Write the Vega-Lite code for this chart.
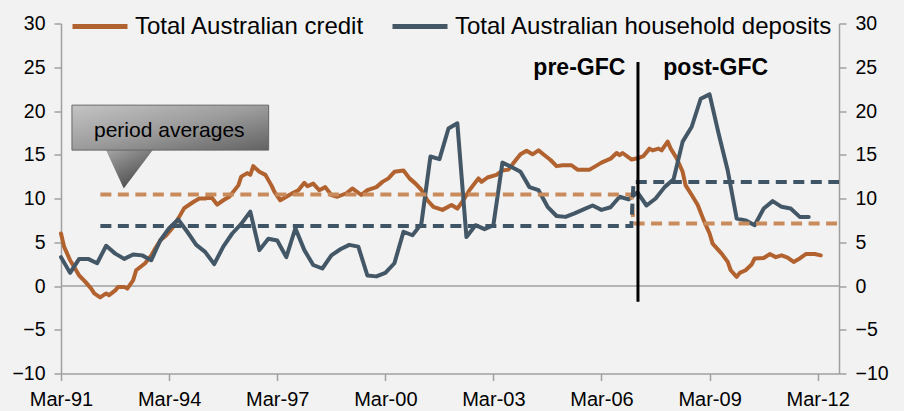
{
  "$schema": "https://vega.github.io/schema/vega-lite/v6.json",
  "autosize": {"type": "none"},
  "width": 778,
  "height": 350,
  "padding": {"left": 61, "top": 23.5, "right": 65, "bottom": 37.5},
  "background": "#f2f2f2",
  "config": {
    "view": {"stroke": null},
    "axis": {
      "domainColor": "#a0a0a0", "domainWidth": 1.5,
      "tickColor": "#a0a0a0", "tickWidth": 1.5, "tickSize": 7,
      "labelFont": "Liberation Sans", "labelFontSize": 19.5, "labelColor": "#000000",
      "labelPadding": 9, "grid": false, "title": null, "labelFlush": false
    }
  },
  "datasets": {
    "credit": [
      {"d": "1991-03-01", "v": 6.0}, {"d": "1991-04-01", "v": 4.5}, {"d": "1991-06-01", "v": 2.95},
      {"d": "1991-08-01", "v": 1.8}, {"d": "1991-09-01", "v": 1.2}, {"d": "1991-11-01", "v": 0.5},
      {"d": "1992-01-01", "v": -0.3}, {"d": "1992-02-01", "v": -0.85}, {"d": "1992-04-01", "v": -1.3},
      {"d": "1992-06-01", "v": -0.85}, {"d": "1992-07-01", "v": -1.05}, {"d": "1992-09-01", "v": -0.5},
      {"d": "1992-10-01", "v": -0.1}, {"d": "1992-12-01", "v": -0.1}, {"d": "1993-01-01", "v": -0.3},
      {"d": "1993-03-01", "v": 0.65}, {"d": "1993-04-01", "v": 1.8}, {"d": "1993-07-01", "v": 2.6},
      {"d": "1993-09-01", "v": 3.5}, {"d": "1993-10-01", "v": 4.1}, {"d": "1993-12-01", "v": 5.2},
      {"d": "1994-02-01", "v": 5.8}, {"d": "1994-04-01", "v": 6.6}, {"d": "1994-06-01", "v": 7.7},
      {"d": "1994-08-01", "v": 8.9}, {"d": "1994-11-01", "v": 9.6}, {"d": "1995-01-01", "v": 10.0},
      {"d": "1995-03-01", "v": 10.0}, {"d": "1995-05-01", "v": 10.2}, {"d": "1995-07-01", "v": 9.3},
      {"d": "1995-09-01", "v": 9.8}, {"d": "1995-11-01", "v": 10.2}, {"d": "1996-02-01", "v": 11.5},
      {"d": "1996-03-01", "v": 12.5}, {"d": "1996-05-01", "v": 12.9}, {"d": "1996-06-01", "v": 12.7},
      {"d": "1996-07-01", "v": 13.7}, {"d": "1996-09-01", "v": 13.05}, {"d": "1996-11-01", "v": 12.7},
      {"d": "1997-01-01", "v": 11.5}, {"d": "1997-02-01", "v": 10.75}, {"d": "1997-04-01", "v": 9.8},
      {"d": "1997-06-01", "v": 10.2}, {"d": "1997-08-01", "v": 10.6}, {"d": "1997-10-01", "v": 10.95},
      {"d": "1997-12-01", "v": 11.8}, {"d": "1998-01-01", "v": 11.4}, {"d": "1998-03-01", "v": 11.7},
      {"d": "1998-05-01", "v": 10.95}, {"d": "1998-07-01", "v": 11.3}, {"d": "1998-09-01", "v": 10.4},
      {"d": "1998-11-01", "v": 10.2}, {"d": "1999-02-01", "v": 10.6}, {"d": "1999-04-01", "v": 11.15},
      {"d": "1999-07-01", "v": 10.4}, {"d": "1999-09-01", "v": 10.95}, {"d": "1999-12-01", "v": 11.3},
      {"d": "2000-02-01", "v": 11.9}, {"d": "2000-04-01", "v": 12.3}, {"d": "2000-06-01", "v": 13.05},
      {"d": "2000-09-01", "v": 13.2}, {"d": "2000-11-01", "v": 12.3}, {"d": "2001-01-01", "v": 11.7},
      {"d": "2001-03-01", "v": 11.0}, {"d": "2001-05-01", "v": 9.8}, {"d": "2001-07-01", "v": 9.05},
      {"d": "2001-10-01", "v": 8.7}, {"d": "2002-01-01", "v": 9.25}, {"d": "2002-03-01", "v": 8.85},
      {"d": "2002-05-01", "v": 9.8}, {"d": "2002-07-01", "v": 10.95}, {"d": "2002-10-01", "v": 12.3},
      {"d": "2002-11-01", "v": 11.9}, {"d": "2003-01-01", "v": 12.4}, {"d": "2003-04-01", "v": 12.7},
      {"d": "2003-06-01", "v": 13.2}, {"d": "2003-08-01", "v": 13.3}, {"d": "2003-10-01", "v": 14.2},
      {"d": "2003-12-01", "v": 15.05}, {"d": "2004-02-01", "v": 15.45}, {"d": "2004-04-01", "v": 15.05},
      {"d": "2004-06-01", "v": 15.5}, {"d": "2004-08-01", "v": 14.95}, {"d": "2004-10-01", "v": 14.4},
      {"d": "2004-12-01", "v": 13.7}, {"d": "2005-02-01", "v": 13.8}, {"d": "2005-05-01", "v": 13.8},
      {"d": "2005-07-01", "v": 13.3}, {"d": "2005-11-01", "v": 13.3}, {"d": "2006-01-01", "v": 13.7},
      {"d": "2006-03-01", "v": 14.1}, {"d": "2006-06-01", "v": 14.55}, {"d": "2006-08-01", "v": 15.2},
      {"d": "2006-09-01", "v": 14.95}, {"d": "2006-10-01", "v": 15.2}, {"d": "2007-01-01", "v": 14.45},
      {"d": "2007-03-01", "v": 14.6}, {"d": "2007-05-01", "v": 14.85}, {"d": "2007-07-01", "v": 15.7},
      {"d": "2007-08-01", "v": 15.5}, {"d": "2007-10-01", "v": 15.7}, {"d": "2007-11-01", "v": 15.5},
      {"d": "2008-01-01", "v": 16.5}, {"d": "2008-02-01", "v": 15.7}, {"d": "2008-04-01", "v": 14.6},
      {"d": "2008-06-01", "v": 13.05}, {"d": "2008-07-01", "v": 11.5}, {"d": "2008-09-01", "v": 10.4},
      {"d": "2008-11-01", "v": 9.25}, {"d": "2009-01-01", "v": 7.5}, {"d": "2009-03-01", "v": 6.0},
      {"d": "2009-04-01", "v": 4.85}, {"d": "2009-07-01", "v": 3.7}, {"d": "2009-09-01", "v": 2.75},
      {"d": "2009-10-01", "v": 1.8}, {"d": "2009-12-01", "v": 1.05}, {"d": "2010-01-01", "v": 1.5},
      {"d": "2010-03-01", "v": 1.8}, {"d": "2010-05-01", "v": 2.45}, {"d": "2010-06-01", "v": 3.15},
      {"d": "2010-09-01", "v": 3.2}, {"d": "2010-11-01", "v": 3.65}, {"d": "2011-01-01", "v": 3.3},
      {"d": "2011-03-01", "v": 3.5}, {"d": "2011-05-01", "v": 3.25}, {"d": "2011-07-01", "v": 2.75},
      {"d": "2011-09-01", "v": 3.15}, {"d": "2011-11-01", "v": 3.65}, {"d": "2012-02-01", "v": 3.65},
      {"d": "2012-04-01", "v": 3.5}
    ],
    "deposits": [
      {"d": "1991-03-01", "v": 3.3}, {"d": "1991-06-01", "v": 1.5}, {"d": "1991-09-01", "v": 3.1}, {"d": "1991-12-01", "v": 3.1},
      {"d": "1992-03-01", "v": 2.6}, {"d": "1992-06-01", "v": 4.6}, {"d": "1992-09-01", "v": 3.7}, {"d": "1992-12-01", "v": 3.1},
      {"d": "1993-03-01", "v": 3.6}, {"d": "1993-06-01", "v": 3.5}, {"d": "1993-09-01", "v": 2.95}, {"d": "1993-12-01", "v": 5.2},
      {"d": "1994-03-01", "v": 6.6}, {"d": "1994-06-01", "v": 7.6}, {"d": "1994-09-01", "v": 6.2}, {"d": "1994-12-01", "v": 4.7},
      {"d": "1995-03-01", "v": 3.9}, {"d": "1995-06-01", "v": 2.5}, {"d": "1995-09-01", "v": 4.5}, {"d": "1995-12-01", "v": 6.0},
      {"d": "1996-03-01", "v": 7.1}, {"d": "1996-06-01", "v": 8.5}, {"d": "1996-09-01", "v": 4.1}, {"d": "1996-12-01", "v": 5.4},
      {"d": "1997-03-01", "v": 5.2}, {"d": "1997-06-01", "v": 3.3}, {"d": "1997-09-01", "v": 6.6}, {"d": "1997-12-01", "v": 4.1},
      {"d": "1998-03-01", "v": 2.4}, {"d": "1998-06-01", "v": 2.0}, {"d": "1998-09-01", "v": 3.5}, {"d": "1998-12-01", "v": 4.2},
      {"d": "1999-03-01", "v": 4.7}, {"d": "1999-06-01", "v": 4.5}, {"d": "1999-09-01", "v": 1.2}, {"d": "1999-12-01", "v": 1.1},
      {"d": "2000-03-01", "v": 1.5}, {"d": "2000-06-01", "v": 2.6}, {"d": "2000-09-01", "v": 6.2}, {"d": "2000-12-01", "v": 5.8},
      {"d": "2001-03-01", "v": 7.1}, {"d": "2001-06-01", "v": 14.8}, {"d": "2001-09-01", "v": 14.5}, {"d": "2001-12-01", "v": 18.0},
      {"d": "2002-03-01", "v": 18.6}, {"d": "2002-06-01", "v": 5.6}, {"d": "2002-09-01", "v": 6.95}, {"d": "2002-12-01", "v": 6.5},
      {"d": "2003-03-01", "v": 6.95}, {"d": "2003-06-01", "v": 14.1}, {"d": "2003-09-01", "v": 13.6}, {"d": "2003-12-01", "v": 13.05},
      {"d": "2004-03-01", "v": 11.3}, {"d": "2004-06-01", "v": 10.95}, {"d": "2004-09-01", "v": 9.05}, {"d": "2004-12-01", "v": 8.0},
      {"d": "2005-03-01", "v": 7.9}, {"d": "2005-06-01", "v": 8.3}, {"d": "2005-09-01", "v": 8.75}, {"d": "2005-12-01", "v": 9.2},
      {"d": "2006-03-01", "v": 8.7}, {"d": "2006-06-01", "v": 9.0}, {"d": "2006-09-01", "v": 10.2}, {"d": "2006-12-01", "v": 9.9},
      {"d": "2007-03-01", "v": 10.7}, {"d": "2007-06-01", "v": 9.2}, {"d": "2007-09-01", "v": 10.0}, {"d": "2007-12-01", "v": 11.3},
      {"d": "2008-03-01", "v": 12.2}, {"d": "2008-06-01", "v": 16.5}, {"d": "2008-09-01", "v": 18.2}, {"d": "2008-12-01", "v": 21.4},
      {"d": "2009-03-01", "v": 21.9}, {"d": "2009-06-01", "v": 17.4}, {"d": "2009-09-01", "v": 13.2}, {"d": "2009-12-01", "v": 7.7},
      {"d": "2010-03-01", "v": 7.5}, {"d": "2010-06-01", "v": 6.95}, {"d": "2010-09-01", "v": 8.85}, {"d": "2010-12-01", "v": 9.7},
      {"d": "2011-03-01", "v": 9.05}, {"d": "2011-06-01", "v": 8.85}, {"d": "2011-09-01", "v": 7.9}, {"d": "2011-12-01", "v": 7.9}
    ],
    "avgC": [
      {"d": "1992-04-03", "v": 10.45}, {"d": "2006-12-29", "v": 10.45},
      {"d": "2007-01-20", "v": 7.15}, {"d": "2012-10-03", "v": 7.15}
    ],
    "avgD": [
      {"d": "1992-04-03", "v": 6.85}, {"d": "2006-12-29", "v": 6.85},
      {"d": "2007-01-20", "v": 11.9}, {"d": "2012-10-03", "v": 11.9}
    ],
    "gfc": [{"d": "2007-03-06", "y1": -1.8, "y2": 25.6}],
    "box": [{"d1": "1991-06-20", "d2": "1996-12-04", "v1": 15.53, "v2": 20.67}],
    "arrow": [{"d": "1993-01-24", "v": 13.33}],
    "boxText": [{"d": "1994-03-03", "v": 17.05, "t": "period averages"}],
    "pre": [{"d": "2006-10-29", "v": 24.1, "t": "pre-GFC"}],
    "post": [{"d": "2007-11-18", "v": 24.1, "t": "post-GFC"}]
  },
  "resolve": {"axis": {"y": "independent"}},
  "layer": [
    {
      "layer": [
        {
          "data": {"values": [{}]},
          "mark": {"type": "rule", "color": "#a0a0a0", "strokeWidth": 1.5},
          "encoding": {"y": {"datum": 0, "type": "quantitative"}}
        },
        {
          "data": {"name": "credit"},
          "mark": {"type": "line", "strokeWidth": 4, "strokeJoin": "round", "strokeCap": "round"},
          "encoding": {
            "x": {
              "field": "d", "type": "temporal",
              "scale": {"type": "utc", "domain": [{"year": 1991, "month": 3, "date": 1, "utc": true}, {"year": 2012, "month": 10, "date": 3, "utc": true}]},
              "axis": {
                "values": [
                  {"year": 1991, "month": 3, "date": 1, "utc": true},
                  {"year": 1994, "month": 3, "date": 1, "utc": true},
                  {"year": 1997, "month": 3, "date": 1, "utc": true},
                  {"year": 2000, "month": 3, "date": 1, "utc": true},
                  {"year": 2003, "month": 3, "date": 1, "utc": true},
                  {"year": 2006, "month": 3, "date": 1, "utc": true},
                  {"year": 2009, "month": 3, "date": 1, "utc": true},
                  {"year": 2012, "month": 3, "date": 1, "utc": true}
                ],
                "labelExpr": "utcFormat(datum.value, '%b-%y')", "labelPadding": 9, "labelFlush": false, "labelFontSize": 20
              }
            },
            "y": {
              "field": "v", "type": "quantitative",
              "scale": {"domain": [-10, 30], "nice": false, "zero": false},
              "axis": {"values": [-10, -5, 0, 5, 10, 15, 20, 25, 30], "orient": "left"}
            },
            "color": {
              "datum": "Total Australian credit", "type": "nominal",
              "scale": {"domain": ["Total Australian credit", "Total Australian household deposits"], "range": ["#b1622f", "#435767"]},
              "legend": {
                "orient": "none", "legendX": 9, "legendY": -27, "direction": "horizontal",
                "title": null, "symbolType": "stroke", "symbolSize": 3025, "symbolStrokeWidth": 5,
                "labelFont": "Liberation Sans", "labelFontSize": 24, "labelColor": "#000000",
                "labelOffset": 5, "columnPadding": 17, "padding": 0, "labelLimit": 0
              }
            }
          }
        },
        {
          "data": {"name": "deposits"},
          "mark": {"type": "line", "strokeWidth": 4, "strokeJoin": "round", "strokeCap": "round"},
          "encoding": {
            "x": {"field": "d", "type": "temporal"},
            "y": {"field": "v", "type": "quantitative"},
            "color": {"datum": "Total Australian household deposits", "type": "nominal"}
          }
        },
        {
          "data": {"name": "avgC"},
          "mark": {"type": "line", "strokeWidth": 4, "color": "#c98b5c", "strokeDash": [11, 6.5]},
          "encoding": {
            "x": {"field": "d", "type": "temporal"},
            "y": {"field": "v", "type": "quantitative"}
          }
        },
        {
          "data": {"name": "avgD"},
          "mark": {"type": "line", "strokeWidth": 4, "color": "#3f5566", "strokeDash": [11, 6.5]},
          "encoding": {
            "x": {"field": "d", "type": "temporal"},
            "y": {"field": "v", "type": "quantitative"}
          }
        },
        {
          "data": {"name": "gfc"},
          "mark": {"type": "rule", "color": "#000000", "strokeWidth": 3},
          "encoding": {
            "x": {"field": "d", "type": "temporal"},
            "y": {"field": "y1", "type": "quantitative"},
            "y2": {"field": "y2"}
          }
        },
        {
          "data": {"name": "pre"},
          "mark": {"type": "text", "align": "right", "baseline": "alphabetic", "font": "Liberation Sans", "fontWeight": "bold", "fontSize": 23, "color": "#000000"},
          "encoding": {
            "x": {"field": "d", "type": "temporal"},
            "y": {"field": "v", "type": "quantitative"},
            "text": {"field": "t"}
          }
        },
        {
          "data": {"name": "post"},
          "mark": {"type": "text", "align": "left", "baseline": "alphabetic", "font": "Liberation Sans", "fontWeight": "bold", "fontSize": 23, "color": "#000000"},
          "encoding": {
            "x": {"field": "d", "type": "temporal"},
            "y": {"field": "v", "type": "quantitative"},
            "text": {"field": "t"}
          }
        },
        {
          "data": {"name": "arrow"},
          "mark": {
            "type": "point", "filled": true, "size": 2333, "opacity": 1,
            "shape": "M-1,-0.85L1,-0.85L-0.24,0.79Z",
            "color": {"gradient": "linear", "x1": 0, "y1": 0, "x2": 0.6, "y2": 1, "stops": [{"offset": 0, "color": "#a8a8a8"}, {"offset": 1, "color": "#4a4a4a"}]}
          },
          "encoding": {
            "x": {"field": "d", "type": "temporal"},
            "y": {"field": "v", "type": "quantitative"}
          }
        },
        {
          "data": {"name": "box"},
          "mark": {
            "type": "rect", "stroke": "#666666", "strokeWidth": 1,
            "fill": {"gradient": "linear", "x1": 0, "y1": 0, "x2": 1, "y2": 1, "stops": [{"offset": 0, "color": "#c4c4c4"}, {"offset": 0.5, "color": "#9c9c9c"}, {"offset": 1, "color": "#626262"}]}
          },
          "encoding": {
            "x": {"field": "d1", "type": "temporal"},
            "x2": {"field": "d2"},
            "y": {"field": "v1", "type": "quantitative"},
            "y2": {"field": "v2"}
          }
        },
        {
          "data": {"name": "boxText"},
          "mark": {"type": "text", "align": "center", "baseline": "alphabetic", "font": "Liberation Sans", "fontSize": 21, "color": "#000000"},
          "encoding": {
            "x": {"field": "d", "type": "temporal"},
            "y": {"field": "v", "type": "quantitative"},
            "text": {"field": "t"}
          }
        }
      ]
    },
    {
      "data": {"values": [{}]},
      "mark": {"type": "rule", "opacity": 0},
      "encoding": {
        "y": {
          "datum": 0, "type": "quantitative",
          "axis": {"orient": "right", "values": [-10, -5, 0, 5, 10, 15, 20, 25, 30]}
        }
      }
    }
  ]
}
